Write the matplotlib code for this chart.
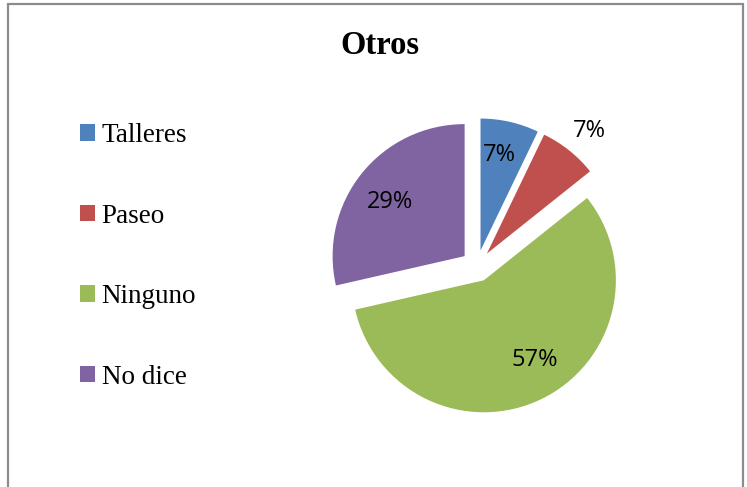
import numpy as np
import matplotlib.pyplot as plt
from matplotlib.patches import Rectangle

# data (counts read as 1/14 steps: 7%, 7%, 57%, 29%)
categories = ["Talleres", "Paseo", "Ninguno", "No dice"]
values = [1, 1, 8, 4]
colors = ["#4F81BD", "#C0504D", "#9BBB59", "#8064A2"]

W, H = 747, 487
fig = plt.figure(figsize=(W / 100, H / 100), dpi=100)

# outer chart frame (bottom edge is cut off in the reference)
fig.patches.append(Rectangle((8 / W, -0.02), 735 / W, (H - 4) / H + 0.02,
                             transform=fig.transFigure, fill=False,
                             edgecolor="#8c8c8c", linewidth=1.6))

fig.text(380 / W, 1 - 46 / H, "Otros", ha="center", va="center",
         family="Liberation Serif", weight="bold", fontsize=23.5)

# pie axes: center ~ (477, 266) px, radius ~ 132 px
cx, cy, R, L = 477, 266, 132, 1.3
side = 2 * L * R
ax = fig.add_axes([(cx - side / 2) / W, (H - cy - side / 2) / H, side / W, side / H])
wedges, _ = ax.pie(values, colors=colors, startangle=90, counterclock=False,
                   explode=[0.12] * len(values), radius=1,
                   wedgeprops=dict(linewidth=0))
ax.set_xlim(-L, L)
ax.set_ylim(-L, L)
ax.axis("off")

total = sum(values)
# label placement relative to each wedge (distance, angle shift in degrees)
label_dist = [0.74, 1.21, 0.72, 0.70]
label_shift = [2, -1.3, 7, 2.6]
for w, v, d, s in zip(wedges, values, label_dist, label_shift):
    ang = np.deg2rad((w.theta1 + w.theta2) / 2 + s)
    x0, y0 = w.center
    ax.text(x0 + d * np.cos(ang), y0 + d * np.sin(ang), f"{round(v / total * 100)}%",
            ha="center", va="center", family="Open Sans", fontsize=17, color="black")

handles = [Rectangle((0, 0), 1, 1, facecolor=c, edgecolor="none") for c in colors]
fig.legend(handles, categories, loc="upper left", bbox_to_anchor=(80 / W, 1 - 123 / H),
           frameon=False, prop=dict(family="Liberation Serif", size=19.5),
           handlelength=0.55, handleheight=0.55, handletextpad=0.25,
           labelspacing=2.05, borderpad=0, borderaxespad=0)

fig.savefig("out.png", dpi=100)
